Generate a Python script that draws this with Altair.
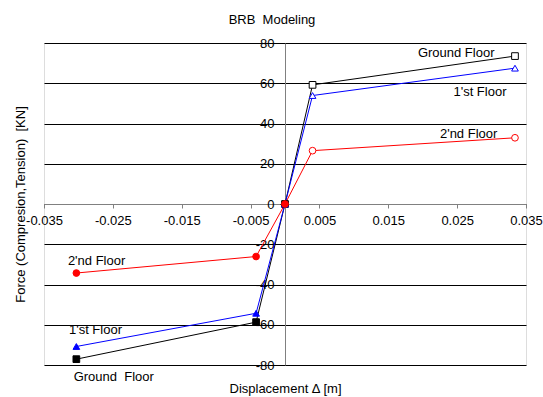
import altair as alt
import pandas as pd

FONT = "Liberation Sans"

# ---- data ----
series_names = ["Ground Floor", "1'st Floor", "2'nd Floor"]
series_colors = ["#000000", "#0000ff", "#ff0000"]
series_shapes = ["square", "triangle-up", "circle"]

disp_ground = [-0.0303, -0.0042, 0.0, 0.0040, 0.0334]
force_ground = [-77.1, -58.7, 0.0, 59.2, 73.5]
disp_first = [-0.0303, -0.0042, 0.0, 0.0040, 0.0334]
force_first = [-70.8, -54.3, 0.0, 53.9, 67.5]
disp_second = [-0.0303, -0.0042, 0.0, 0.0040, 0.0334]
force_second = [-34.3, -26.1, 0.0, 26.5, 32.9]

label_text = ["Ground Floor", "1'st Floor", "2'nd Floor", "2'nd Floor", "1'st Floor", "Ground\u00a0 Floor"]
label_x = [0.0193, 0.02446, 0.0225, -0.03153, -0.03138, -0.03069]
label_y = [75.0, 55.9, 34.9, -28.1, -62.5, -86.0]

x_ticks = [-0.035, -0.025, -0.015, -0.005, 0.005, 0.015, 0.025, 0.035]
y_ticks = [-80, -60, -40, -20, 0, 20, 40, 60, 80]

rows = []
for name, xs, ys in [(series_names[0], disp_ground, force_ground),
                     (series_names[1], disp_first, force_first),
                     (series_names[2], disp_second, force_second)]:
    for i, (xv, yv) in enumerate(zip(xs, ys)):
        rows.append({"series": name, "disp": xv, "force": yv, "step": i})
df = pd.DataFrame(rows)
labels_df = pd.DataFrame({"text": label_text, "x": label_x, "y": label_y})

W, H = 482, 322

xscale = alt.Scale(domain=[-0.035, 0.035], nice=False, zero=False)
yscale = alt.Scale(domain=[-80, 80], nice=False)
color_scale = alt.Scale(domain=series_names, range=series_colors)
shape_scale = alt.Scale(domain=series_names, range=series_shapes)

x_axis = alt.Axis(
    values=x_ticks, grid=False, offset=-H / 2,
    labelExpr="(datum.value < 0 ? '-' : '') + format(abs(datum.value), '.3f')",
    labelFont=FONT, labelFontSize=13, labelColor="#000000", labelPadding=6,
    labelBaseline="top", labelFlush=False, labelOverlap=False,
    tickSize=4, tickColor="#808080", domainColor="#808080",
    title="Displacement Δ [m]", titleFont=FONT, titleFontSize=13, titleFontWeight="normal",
    titleColor="#000000", titleX=W / 2, titleY=184, titleBaseline="middle", titleAlign="center",
)
y_axis = alt.Axis(
    values=y_ticks, grid=True, gridColor="#000000", gridWidth=1, gridOpacity=1,
    offset=-W / 2,
    labelExpr="(datum.value < 0 ? '-' : '') + format(abs(datum.value), 'd')",
    labelFont=FONT, labelFontSize=13, labelColor="#000000", labelPadding=6,
    labelBaseline="middle", labelFlush=False, labelOverlap=False,
    tickSize=5, tickColor="#000000", domainColor="#808080",
    title="Force (Compresion,Tension)\u00a0 [KN]", titleFont=FONT, titleFontSize=13,
    titleFontWeight="normal", titleColor="#000000",
    titleX=-(W / 2) - 24, titleY=H / 2, titleBaseline="middle", titleAlign="center", titleAngle=270,
)

base = alt.Chart(df)

lines = base.mark_line(strokeWidth=1, clip=False).encode(
    x=alt.X("disp:Q", scale=xscale, axis=x_axis),
    y=alt.Y("force:Q", scale=yscale, axis=y_axis),
    color=alt.Color("series:N", scale=color_scale, legend=None),
    detail="series:N",
    order="step:Q",
)

points = base.mark_point(filled=False, size=45, strokeWidth=1, opacity=1).encode(
    x="disp:Q",
    y="force:Q",
    shape=alt.Shape("series:N", scale=shape_scale, legend=None),
    stroke=alt.Stroke("series:N", scale=color_scale, legend=None),
    fill=alt.condition("datum.disp > 0", alt.value("#ffffff"),
                       alt.Fill("series:N", scale=color_scale, legend=None)),
)

texts = alt.Chart(labels_df).mark_text(
    align="left", baseline="middle", font=FONT, fontSize=13, color="#000000"
).encode(
    x="x:Q", y="y:Q", text="text:N"
)

chart = alt.layer(lines, points, texts).properties(
    width=W, height=H,
    title=alt.TitleParams("BRB\u00a0 Modeling", font=FONT, fontSize=13, fontWeight="normal",
                          color="#000000", anchor="middle", dx=-13, offset=10),
    autosize="none",
    padding={"left": 44, "top": 43, "right": 17, "bottom": 32},
).configure_view(stroke=None).configure(background="#ffffff")

chart.save("out.html", embed_options={"renderer": "svg", "actions": False})
